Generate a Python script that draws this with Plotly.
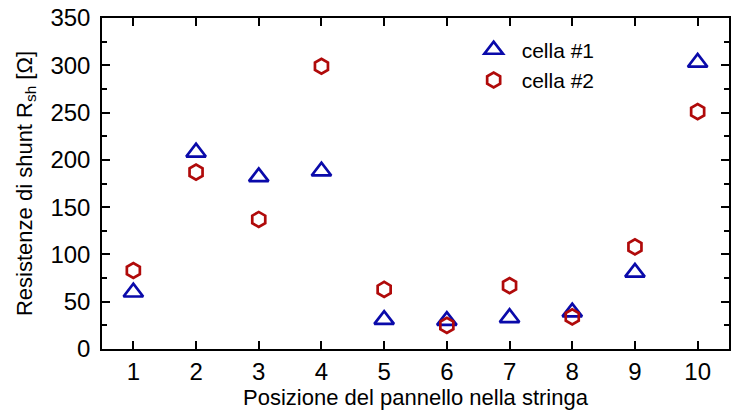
import plotly.graph_objects as go

positions = [1, 2, 3, 4, 5, 6, 7, 8, 9, 10]
cella1 = [60, 208, 182, 188, 31, 30, 33, 39, 81, 303]
cella2 = [83, 187, 137, 299, 63, 25, 67, 34, 108, 251]

blue = "#0a0aaa"
red = "#b00a0a"
font = "Liberation Sans, Arial, sans-serif"

fig = go.Figure()
fig.add_trace(go.Scatter(
    x=positions, y=cella1, mode="markers", name="cella #1",
    marker=dict(symbol="triangle-up-open", size=17, color=blue, line=dict(width=2.7, color=blue)),
))
fig.add_trace(go.Scatter(
    x=positions, y=cella2, mode="markers", name="cella #2",
    marker=dict(symbol="hexagon-open", size=15, color=red, line=dict(width=2.7, color=red)),
))

axis_common = dict(
    showline=True, linecolor="black", linewidth=1.5, mirror="ticks",
    ticks="inside", tickcolor="black", tickwidth=1.5, ticklen=8,
    showgrid=False, zeroline=False,
    tickfont=dict(family=font, size=24, color="black"),
)

fig.update_xaxes(
    range=[0.5, 10.5], tickvals=positions, ticktext=[str(p) for p in positions],
    title=dict(text="Posizione del pannello nella stringa", font=dict(family=font, size=22, color="black"), standoff=0),
    **axis_common,
)
fig.update_yaxes(
    range=[0, 350], dtick=50, ticklabelstandoff=5,
    minor=dict(dtick=25, ticks="inside", ticklen=5, tickwidth=1.5, tickcolor="black"),
    title=dict(text="Resistenze di shunt R<sub>sh</sub> [Ω]", font=dict(family=font, size=22, color="black"), standoff=12),
    **axis_common,
)

fig.update_layout(
    width=735, height=416,
    margin=dict(l=102, r=6, t=18, b=67, autoexpand=False),
    paper_bgcolor="white", plot_bgcolor="white",
    font=dict(family=font, color="black"),
    legend=dict(x=0.58, y=0.965, xanchor="left", yanchor="top", itemwidth=46,
                tracegroupgap=0,
                bgcolor="rgba(0,0,0,0)", font=dict(family=font, size=21, color="black")),
)

fig.write_html("out.html", config={"displayModeBar": False},
               post_script="document.body.style.margin='0';")
